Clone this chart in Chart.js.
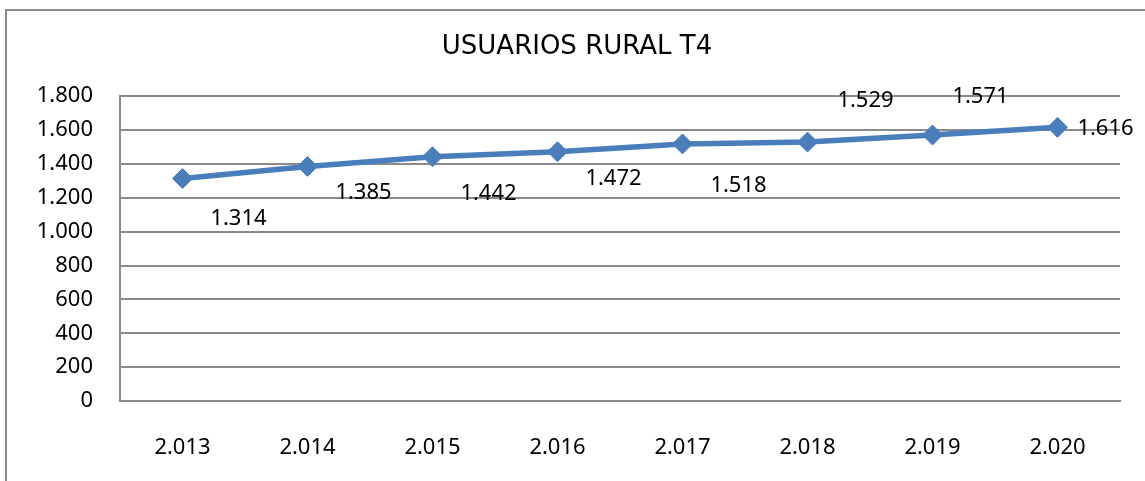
<!DOCTYPE html>
<html>
<head>
<meta charset="utf-8">
<script src="https://cdn.jsdelivr.net/npm/chart.js@4/dist/chart.umd.min.js"></script>
<style>
  html, body { margin: 0; padding: 0; background: #fff; overflow: hidden; }
  #frame { position: absolute; left: 5px; top: 9px; width: 1300px; height: 600px; border: 2px solid #8a8a8a; }
  #usuariosChart { position: absolute; left: 0; top: 0; }
</style>
</head>
<body>
<div id="frame"></div>
<canvas id="usuariosChart" width="1145" height="481"></canvas>
<script>
var years = ['2.013', '2.014', '2.015', '2.016', '2.017', '2.018', '2.019', '2.020'];
var usuarios = [1314, 1385, 1442, 1472, 1518, 1529, 1571, 1616];
var yTicks = [0, 200, 400, 600, 800, 1000, 1200, 1400, 1600, 1800];

function puntos(v) {
    return String(v).replace(/\B(?=(\d{3})+(?!\d))/g, '.');
}

// labels sit where Excel left them, offset from each point
var labelOffsets = [[56, 40], [56, 26], [56, 37], [56, 27], [56, 42], [58, -41], [48, -38], [48, 1]];

var valueLabels = {
    id: 'valueLabels',
    afterDatasetsDraw: function (chart) {
        var ctx = chart.ctx;
        var meta = chart.getDatasetMeta(0);
        ctx.save();
        ctx.font = '22px "Noto Sans"';
        ctx.fillStyle = '#000';
        ctx.textAlign = 'center';
        ctx.textBaseline = 'middle';
        meta.data.forEach(function (pt, i) {
            var off = labelOffsets[i];
            ctx.fillText(puntos(usuarios[i]), pt.x + off[0], pt.y + off[1]);
        });
        ctx.restore();
    }
};

var ctx = document.getElementById('usuariosChart').getContext('2d');
var chart = new Chart(ctx, {
    type: 'line',
    data: {
        labels: years,
        datasets: [{
            label: 'Usuarios',
            data: usuarios,
            borderColor: '#4a7ebb',
            backgroundColor: '#4a7ebb',
            borderWidth: 5.5,
            tension: 0,
            pointStyle: 'rectRot',
            pointRadius: 10,
            pointBackgroundColor: '#4a7ebb',
            pointBorderColor: '#4a7ebb',
            pointBorderWidth: 1
        }]
    },
    options: {
        responsive: false,
        animation: false,
        layout: { padding: { left: 34, right: 25, top: 0, bottom: 0 } },
        plugins: {
            legend: { display: false },
            tooltip: { enabled: false },
            title: {
                display: true,
                text: 'USUARIOS RURAL T4',
                color: '#000',
                font: { family: 'DejaVu Sans', size: 26, weight: 'normal', lineHeight: 1.2 },
                padding: { top: 32, bottom: 33 }
            }
        },
        scales: {
            x: {
                offset: true,
                grid: { display: false },
                border: { display: true, color: '#8a8a8a', width: 2 },
                ticks: { color: '#000', font: { family: 'Noto Sans', size: 22 }, padding: 26 },
                afterFit: function (s) { s.height = 80; }
            },
            y: {
                min: 0,
                max: 1800,
                afterBuildTicks: function (s) { s.ticks = yTicks.map(function (v) { return { value: v }; }); },
                grid: { color: '#8a8a8a', lineWidth: 2, drawTicks: false },
                border: { display: true, color: '#8a8a8a', width: 2 },
                ticks: {
                    color: '#000',
                    font: { family: 'Noto Sans', size: 22 },
                    padding: 27,
                    callback: function (v) { return puntos(v); }
                },
                afterFit: function (s) { s.width = 86; }
            }
        }
    },
    plugins: [valueLabels]
});
</script>
</body>
</html>
